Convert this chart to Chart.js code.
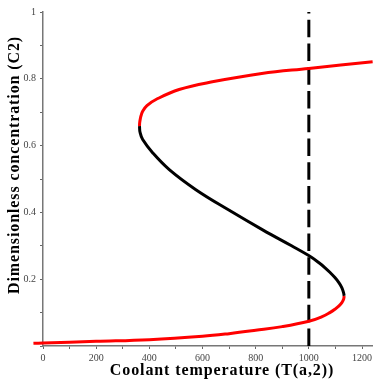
<!DOCTYPE html>
<html>
<head>
<meta charset="utf-8">
<script src="https://cdn.jsdelivr.net/npm/chart.js@4/dist/chart.umd.min.js"></script>
<style>
  body { margin: 0; background: #fff; }
  #wrap { width: 375px; height: 382px; position: relative; }
</style>
</head>
<body>
<div id="wrap"><canvas id="chart"></canvas></div>
<script>
// Lower stable branch (red)
const lowerTemp = [-36, 0, 200, 400, 600, 700, 800, 900, 1000, 1050, 1079, 1098, 1113.5, 1124.3, 1130.8, 1133];
const lowerConc = [0.008, 0.009, 0.014, 0.019, 0.029, 0.037, 0.047, 0.058, 0.074, 0.088, 0.100, 0.110, 0.120, 0.130, 0.140, 0.150];

// Middle unstable branch (black)
const middleTemp = [1133, 1130.5, 1124, 1113, 1098, 1080, 1060, 1037, 1001, 935, 828, 699, 575, 475, 413, 375, 365, 363];
const middleConc = [0.150, 0.160, 0.175, 0.190, 0.205, 0.220, 0.235, 0.250, 0.270, 0.300, 0.347, 0.407, 0.468, 0.528, 0.578, 0.618, 0.640, 0.658];

// Upper stable branch (red)
const upperTemp = [363, 363.6, 366, 369, 375, 391, 425, 512, 637, 823, 1000, 1240];
const upperConc = [0.658, 0.668, 0.680, 0.690, 0.703, 0.720, 0.738, 0.768, 0.791, 0.816, 0.831, 0.851];

// Operating coolant temperature
const markerTemp = [1000, 1000];
const markerConc = [0, 1];

const xTicks = [0, 100, 200, 300, 400, 500, 600, 700, 800, 900, 1000, 1100, 1200];
const xLabels = [0, 200, 400, 600, 800, 1000, 1200];
const yTicks = [0, 0.1, 0.2, 0.3, 0.4, 0.5, 0.6, 0.7, 0.8, 0.9, 1];
const yLabels = [0.2, 0.4, 0.6, 0.8, 1];

const xTitle = 'Coolant temperature (T(a,2))';
const yTitle = 'Dimensionless concentration (C2)';

function toPoints(xs, ys) {
  return xs.map((x, i) => ({ x, y: ys[i] }));
}

function curve(data, color) {
  return {
    data,
    borderColor: color,
    borderWidth: 3,
    pointRadius: 0,
    showLine: true,
    tension: 0.4,
    fill: false,
    clip: false
  };
}

// axis titles drawn by hand so they can sit where the original has them
const axisTitles = {
  id: 'axisTitles',
  afterDraw(chart) {
    const ctx = chart.ctx;
    ctx.save();
    ctx.fillStyle = '#000';
    ctx.font = 'bold 16px "Liberation Serif"';
    ctx.letterSpacing = '0.9px';
    ctx.textAlign = 'center';
    ctx.textBaseline = 'middle';
    ctx.fillText(xTitle, 222, 371);
    ctx.translate(15, 165);
    ctx.rotate(-Math.PI / 2);
    ctx.fillText(yTitle, 0, 0);
    ctx.restore();
  }
};

const tickFont = { family: '"Liberation Serif"', size: 10 };

new Chart(document.getElementById('chart'), {
  type: 'scatter',
  data: {
    datasets: [
      curve(toPoints(lowerTemp, lowerConc), '#ff0000'),
      curve(toPoints(middleTemp, middleConc), '#000000'),
      curve(toPoints(upperTemp, upperConc), '#ff0000'),
      {
        data: toPoints(markerTemp, markerConc),
        borderColor: '#000000',
        borderWidth: 3,
        borderDash: [17.5, 6.25],
        pointRadius: 0,
        showLine: true
      }
    ]
  },
  options: {
    responsive: true,
    maintainAspectRatio: false,
    animation: false,
    layout: { padding: { left: 0, right: 0, top: 12, bottom: 0 } },
    plugins: { legend: { display: false }, tooltip: { enabled: false } },
    scales: {
      x: {
        type: 'linear',
        position: 'bottom',
        min: 0,
        max: 1240,
        afterBuildTicks: scale => { scale.ticks = xTicks.map(v => ({ value: v })); },
        afterFit: scale => { scale.height = 36; },
        ticks: {
          color: '#444',
          font: tickFont,
          padding: 3,
          autoSkip: false,
          maxRotation: 0,
          callback: v => xLabels.includes(v) ? String(v) : ''
        },
        grid: { drawOnChartArea: false, drawTicks: true, tickLength: 3, color: '#666' },
        border: { color: '#777', width: 1.5 }
      },
      y: {
        type: 'linear',
        position: 'left',
        min: 0,
        max: 1,
        afterBuildTicks: scale => { scale.ticks = yTicks.map(v => ({ value: v })); },
        afterFit: scale => { scale.width = 43; },
        ticks: {
          color: '#444',
          font: tickFont,
          padding: 4,
          autoSkip: false,
          callback: v => yLabels.some(l => Math.abs(l - v) < 1e-9) ? String(+v.toFixed(1)) : ''
        },
        grid: { drawOnChartArea: false, drawTicks: true, tickLength: 3, color: '#666' },
        border: { color: '#777', width: 1.5 }
      }
    }
  },
  plugins: [axisTitles]
});
</script>
</body>
</html>
